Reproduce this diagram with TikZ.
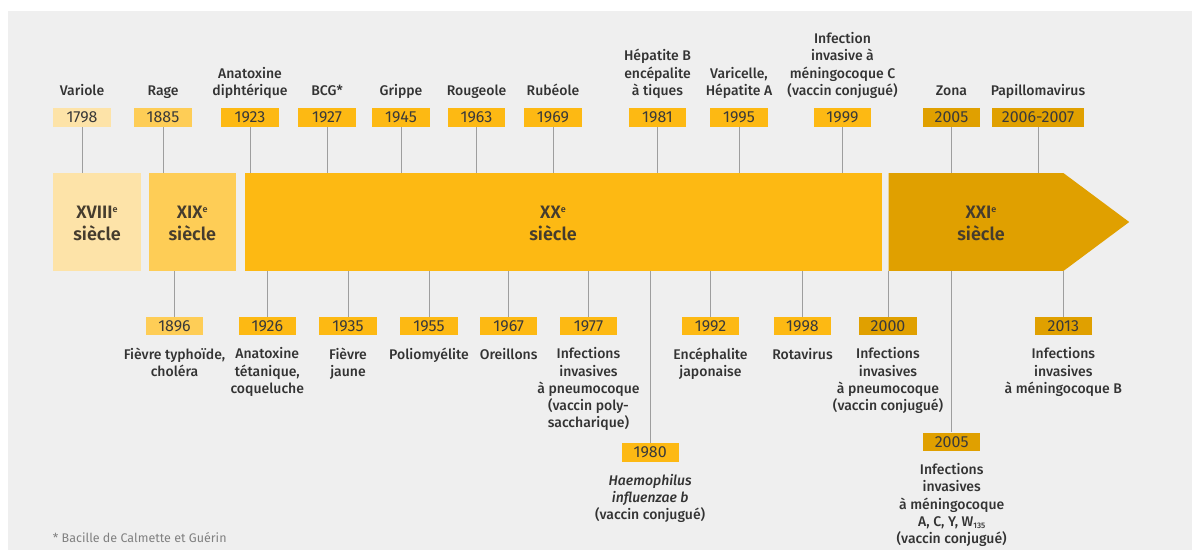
\documentclass[tikz,border=0pt]{standalone}
\usepackage{fontspec}
\setmainfont{Fira Sans}
\newfontfamily\lblfont{Fira Sans}[UprightFont={* Medium},ItalicFont={* Medium Italic}]
\newfontfamily\bandfont{Fira Sans}[UprightFont={* SemiBold}]
\definecolor{cA}{HTML}{FDE3A8}
\definecolor{cB}{HTML}{FECD56}
\definecolor{cC}{HTML}{FDB913}
\definecolor{cD}{HTML}{E0A000}
\definecolor{bgc}{HTML}{EFEFEF}
\definecolor{linec}{HTML}{9E9E9E}
\definecolor{txt}{HTML}{333333}
\definecolor{yeartxt}{HTML}{3A3A3A}
\definecolor{bandtxt}{HTML}{453C2E}
\definecolor{foottxt}{HTML}{808080}
\newcommand{\supe}{\raisebox{5.5pt}{\fontsize{9}{9}\selectfont e}}
\begin{document}
\begin{tikzpicture}[x=1pt,y=-1pt,
  yr/.style={rectangle,inner sep=0pt,minimum width=57.4pt,minimum height=18.6pt,
    font=\fontsize{16}{18}\selectfont,text=yeartxt},
  lbl/.style={align=center,inner sep=0pt,text=txt,
    font=\lblfont\fontsize{14}{17.3}\selectfont,
    execute at begin node=\strut,execute at end node=\strut},
  lblT/.style={lbl,anchor=south},
  lblB/.style={lbl,anchor=north},
  band/.style={rectangle,inner sep=0pt,minimum height=97.4pt},
  bandlbl/.style={align=center,inner sep=0pt,anchor=north,text=bandtxt,
    font=\bandfont\fontsize{18}{22.3}\selectfont,execute at begin node=\strut},
  conn/.style={draw=linec,line width=1pt},
  foot/.style={inner sep=0pt,text=foottxt,font=\fontsize{12.5}{15}\selectfont}]
\fill[white] (0,0) rectangle (1192,550);
\fill[bgc] (8,11) rectangle (1192,550);
\useasboundingbox (0,0) rectangle (1192,550);

% bands
\node[band,fill=cA,minimum width=87.4pt] (b1) at (97,222) {};
\node[band,fill=cB,minimum width=87.3pt] (b2) at (192.35,222) {};
\node[band,fill=cC,minimum width=636.7pt] (b3) at (563.35,222) {};
\node[band,minimum width=174.6pt] (b4) at (976,222) {};
\fill[cD] (b4.north west) -- (b4.north east) -- ([xshift=65.7pt]b4.east) -- (b4.south east) -- (b4.south west) -- cycle;
\node[bandlbl] (lb1) at (97,205.4) {XVIII\supe\\siècle};
\node[bandlbl] (lb2) at (192.3,205.4) {XIX\supe\\siècle};
\node[bandlbl] (lb3) at (553,205.4) {XX\supe\\siècle};
\node[bandlbl] (lb4) at (981,205.4) {XXI\supe\\siècle};

% top events
\node[yr,fill=cA] (t1798) at (82,117.5) {1798};
\node[lblT] (lt1798) at ([yshift=7.3pt]t1798.north) {Variole};
\draw[conn] (t1798.south) -- (t1798.south |- b1.north);

\node[yr,fill=cB] (t1885) at (163,117.5) {1885};
\node[lblT] (lt1885) at ([yshift=7.3pt]t1885.north) {Rage};
\draw[conn] (t1885.south) -- (t1885.south |- b2.north);

\node[yr,fill=cC] (t1923) at (250,117.5) {1923};
\node[lblT] (lt1923) at ([yshift=7.3pt]t1923.north) {Anatoxine\\diphtérique};
\draw[conn] (t1923.south) -- (t1923.south |- b3.north);

\node[yr,fill=cC] (t1927) at (327,117.5) {1927};
\node[lblT] (lt1927) at ([yshift=7.3pt]t1927.north) {BCG*};
\draw[conn] (t1927.south) -- (t1927.south |- b3.north);

\node[yr,fill=cC] (t1945) at (401,117.5) {1945};
\node[lblT] (lt1945) at ([yshift=7.3pt]t1945.north) {Grippe};
\draw[conn] (t1945.south) -- (t1945.south |- b3.north);

\node[yr,fill=cC] (t1963) at (476.5,117.5) {1963};
\node[lblT] (lt1963) at ([yshift=7.3pt]t1963.north) {Rougeole};
\draw[conn] (t1963.south) -- (t1963.south |- b3.north);

\node[yr,fill=cC] (t1969) at (553,117.5) {1969};
\node[lblT] (lt1969) at ([yshift=7.3pt]t1969.north) {Rubéole};
\draw[conn] (t1969.south) -- (t1969.south |- b3.north);

\node[yr,fill=cC] (t1981) at (657.5,117.5) {1981};
\node[lblT] (lt1981) at ([yshift=7.3pt]t1981.north) {Hépatite B\\encépalite\\à tiques};
\draw[conn] (t1981.south) -- (t1981.south |- b3.north);

\node[yr,fill=cC] (t1995) at (739,117.5) {1995};
\node[lblT] (lt1995) at ([yshift=7.3pt]t1995.north) {Varicelle,\\Hépatite A};
\draw[conn] (t1995.south) -- (t1995.south |- b3.north);

\node[yr,fill=cC] (t1999) at (842.5,117.5) {1999};
\node[lblT] (lt1999) at ([yshift=7.3pt]t1999.north) {Infection\\invasive à\\méningocoque C\\(vaccin conjugué)};
\draw[conn] (t1999.south) -- (t1999.south |- b3.north);

\node[yr,fill=cD] (t2005) at (951.5,117.5) {2005};
\node[lblT] (lt2005) at ([yshift=7.3pt]t2005.north) {Zona};
\draw[conn] (t2005.south) -- (t2005.south |- b4.north);

\node[yr,fill=cD,minimum width=92pt] (t2006) at (1038,117.5) {2006-2007};
\node[lblT] (lt2006) at ([yshift=7.3pt]t2006.north) {Papillomavirus};
\draw[conn] (t2006.south) -- (t2006.south |- b4.north);

% bottom events
\node[yr,fill=cB] (u1896) at (174.5,326) {1896};
\node[lblB] (lu1896) at ([yshift=-11.9pt]u1896.south) {Fièvre typhoïde,\\choléra};
\draw[conn] (u1896.north) -- (u1896.north |- b2.south);

\node[yr,fill=cC] (u1926) at (267.3,326) {1926};
\node[lblB] (lu1926) at ([yshift=-11.9pt]u1926.south) {Anatoxine\\tétanique,\\coqueluche};
\draw[conn] (u1926.north) -- (u1926.north |- b3.south);

\node[yr,fill=cC] (u1935) at (348,326) {1935};
\node[lblB] (lu1935) at ([yshift=-11.9pt]u1935.south) {Fièvre\\jaune};
\draw[conn] (u1935.north) -- (u1935.north |- b3.south);

\node[yr,fill=cC] (u1955) at (429,326) {1955};
\node[lblB] (lu1955) at ([yshift=-11.9pt]u1955.south) {Poliomyélite};
\draw[conn] (u1955.north) -- (u1955.north |- b3.south);

\node[yr,fill=cC] (u1967) at (508.7,326) {1967};
\node[lblB] (lu1967) at ([yshift=-11.9pt]u1967.south) {Oreillons};
\draw[conn] (u1967.north) -- (u1967.north |- b3.south);

\node[yr,fill=cC] (u1977) at (588.5,326) {1977};
\node[lblB] (lu1977) at ([yshift=-11.9pt]u1977.south) {Infections\\invasives\\à pneumocoque\\(vaccin poly-\\saccharique)};
\draw[conn] (u1977.north) -- (u1977.north |- b3.south);

\node[yr,fill=cC] (u1980) at (650.2,452.5) {1980};
\node[lblB] (lu1980) at ([yshift=-11.9pt]u1980.south) {\itshape Haemophilus\\\itshape influenzae b\\(vaccin conjugué)};
\draw[conn] (u1980.north) -- (u1980.north |- b3.south);

\node[yr,fill=cC] (u1992) at (710.5,326) {1992};
\node[lblB] (lu1992) at ([yshift=-11.9pt]u1992.south) {Encéphalite\\japonaise};
\draw[conn] (u1992.north) -- (u1992.north |- b3.south);

\node[yr,fill=cC] (u1998) at (802.5,326) {1998};
\node[lblB] (lu1998) at ([yshift=-11.9pt]u1998.south) {Rotavirus};
\draw[conn] (u1998.north) -- (u1998.north |- b3.south);

\node[yr,fill=cD] (u2000) at (888,326) {2000};
\node[lblB] (lu2000) at ([yshift=-11.9pt]u2000.south) {Infections\\invasives\\à pneumocoque\\(vaccin conjugué)};
\draw[conn] (u2000.north) -- (u2000.north |- b4.south);

\node[yr,fill=cD] (u2005) at (951.7,441.8) {2005};
\node[lblB] (lu2005) at ([yshift=-11.9pt]u2005.south) {Infections\\invasives\\à méningocoque\\A, C, Y, W\raisebox{-2pt}{\fontsize{8}{8}\selectfont 135}\\(vaccin conjugué)};
\draw[conn] (u2005.north) -- (u2005.north |- b4.south);

\node[yr,fill=cD] (u2013) at (1063.3,326) {2013};
\node[lblB] (lu2013) at ([yshift=-11.9pt]u2013.south) {Infections\\invasives\\à méningocoque B};
\draw[conn] (u2013.north) -- (u2013.north |- b4.south);

\node[foot,anchor=base west] (fn) at (52.7,542.3) {* Bacille de Calmette et Guérin};
\end{tikzpicture}
\end{document}
